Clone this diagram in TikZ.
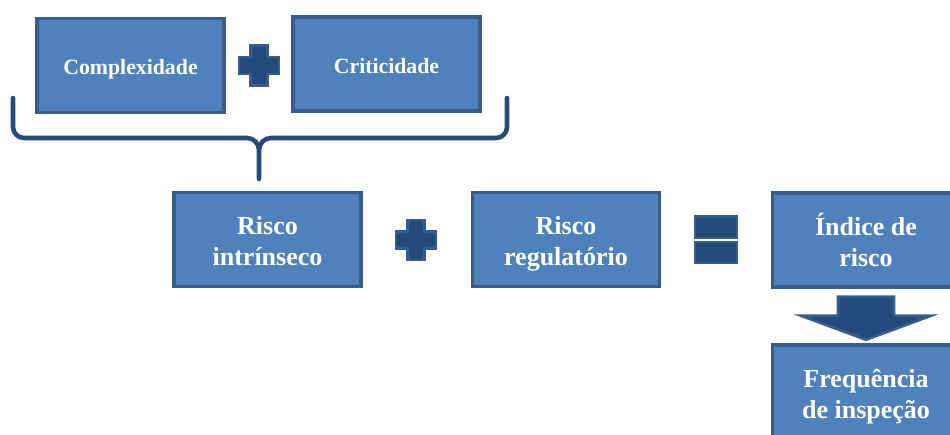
\documentclass[tikz,border=0pt]{standalone}
\usepackage{fontspec}
\setmainfont{Liberation Serif}
\definecolor{boxblue}{RGB}{79,129,189}
\definecolor{edgeblue}{RGB}{56,93,138}
\definecolor{darkblue}{RGB}{35,73,125}
\begin{document}
\begin{tikzpicture}[x=0.02cm, y=-0.02cm,
        box/.style = {draw = edgeblue, fill = boxblue, line width = 2pt, minimum width = 3.74cm, minimum height = 1.88cm,
                      align = center, text = white, text height = 3em, text depth = 0pt, font = \bfseries\fontsize{14.8}{17.6}\selectfont},
        toprow/.style = {text height = 1.05em, font = \bfseries\fontsize{12.4}{15}\selectfont},
        opsym/.style = {draw = edgeblue, fill = darkblue, line width = 1.5pt}]
            \useasboundingbox (0,0) rectangle (950,434);
            \clip (0,0) rectangle (950,434);
            \node[box, toprow] (cplx) at (130.5,65.5) {Complexidade};
            \node[box, toprow] (crit) at (386.5,64) {Criticidade};
            \node[box] (intr) at (267.5,239.5) {Risco\\intrínseco};
            \node[box] (regu) at (566,239.5) {Risco\\regulatório};
            \node[box] (indx) at (866,240) {Índice de\\risco};
            \node[box] (freq) at (866,392) {Frequência\\de inspeção};
            \foreach \c in {(259,65.5),(416,240)}
                {\draw[opsym, shift={\c}] (-8.5,-20) -- (8.5,-20) -- (8.5,-8.5) -- (20,-8.5) -- (20,8.5) -- (8.5,8.5)
                    -- (8.5,20) -- (-8.5,20) -- (-8.5,8.5) -- (-20,8.5) -- (-20,-8.5) -- (-8.5,-8.5) -- cycle;}
            \draw[opsym] (695,216.5) rectangle (737,238) (695,242) rectangle (737,263);
            \draw[opsym] (indx.south) ++(-28,8) -- ++(56,0) -- ++(0,19) -- ++(37,0) -- ++(-65,24) -- ++(-65,-24) -- ++(37,0) -- cycle;
            \draw[darkblue, line width = 2.6pt, line cap = round]
                (13,98) -- (13,127) to[out=-90, in=180] (24,138) -- (247,138) to[out=0, in=90] (259,150) -- (259,179)
                (507,98) -- (507,127) to[out=-90, in=0] (496,138) -- (271,138) to[out=180, in=90] (259,150);
        \end{tikzpicture}
\end{document}
